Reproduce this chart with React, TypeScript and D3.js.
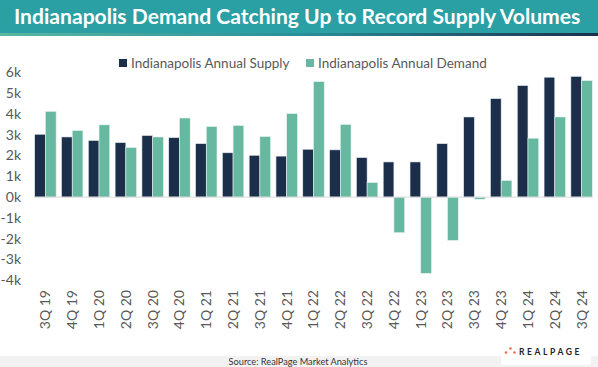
import React from "react";
import * as d3 from "d3";

const categories = ["3Q 19","4Q 19","1Q 20","2Q 20","3Q 20","4Q 20","1Q 21","2Q 21","3Q 21","4Q 21","1Q 22","2Q 22","3Q 22","4Q 22","1Q 23","2Q 23","3Q 23","4Q 23","1Q 24","2Q 24","3Q 24"];
const supply = [3020,2890,2720,2620,2960,2860,2570,2130,2010,1970,2300,2270,1900,1690,1690,2570,3850,4730,5360,5760,5800];
const demand = [4120,3200,3470,2380,2890,3800,3390,3440,2910,4010,5550,3490,700,-1710,-3660,-2080,-100,800,2830,3850,5600];
const yTicks = [6000,5000,4000,3000,2000,1000,0,-1000,-2000,-3000,-4000];
const seriesNames = ["Indianapolis Annual Supply","Indianapolis Annual Demand"];
const colors = ["#1b2f4b","#66b8a0"];

const W = 598, H = 367;

export default function App() {
  const x = d3.scaleBand<string>().domain(categories).range([32, 595]).paddingInner(0.2).paddingOuter(0.1);
  const x1 = d3.scaleBand<string>().domain(["s","d"]).range([0, x.bandwidth()]).padding(0);
  const y = d3.scaleLinear().domain([-4000, 6000]).range([280.4, 72.2]);
  const font = "Lato, 'Open Sans', sans-serif";

  return (
    <div style={{ position: "absolute", left: 0, top: 0 }}>
      <svg width={W} height={H} style={{ display: "block" }}>
        <defs>
          <linearGradient id="strip" x1="0" x2="1" y1="0" y2="0">
            <stop offset="0" stopColor="#5bb7a0" />
            <stop offset="0.5" stopColor="#2a8f9a" />
            <stop offset="1" stopColor="#1b2f4b" />
          </linearGradient>
        </defs>
        <rect x={0} y={0} width={W} height={H} fill="#fff" />
        {/* title bar */}
        <rect x={0} y={0} width={W} height={33} fill="#2a9fa4" />
        <rect x={0} y={33} width={W} height={3} fill="url(#strip)" />
        <text x={14} y={24} fill="#fff" fontFamily={font} fontWeight={700} fontSize={21.1}>
          Indianapolis Demand Catching Up to Record Supply Volumes
        </text>

        {/* legend */}
        <rect x={119} y={59} width={8} height={8} fill={colors[0]} />
        <text x={131} y={68} fill="#595959" fontFamily={font} fontSize={13.5}>{seriesNames[0]}</text>
        <rect x={306} y={59} width={8} height={8} fill={colors[1]} />
        <text x={318} y={68} fill="#595959" fontFamily={font} fontSize={13.5}>{seriesNames[1]}</text>

        {/* y axis labels */}
        {yTicks.map((t) => (
          <text key={t} x={21} y={y(t)} dy="0.35em" textAnchor="end" fill="#595959" fontFamily={font} fontSize={14}>
            {`${t / 1000}k`}
          </text>
        ))}

        {/* bars */}
        {categories.map((c, i) => {
          const x0 = x(c)!;
          return (
            <g key={c}>
              <rect x={x0 + x1("s")!} y={y(Math.max(0, supply[i]))} width={x1.bandwidth()} height={Math.abs(y(supply[i]) - y(0))} fill={colors[0]} stroke="#e8eef0" strokeWidth={0.6} />
              <rect x={x0 + x1("d")!} y={y(Math.max(0, demand[i]))} width={x1.bandwidth()} height={Math.abs(y(demand[i]) - y(0))} fill={colors[1]} stroke="#e8f2ee" strokeWidth={0.6} />
            </g>
          );
        })}
        <line x1={x.range()[0] + 2} x2={x.range()[1] - 2} y1={y(0)} y2={y(0)} stroke="#d9d9d9" strokeWidth={1} />

        {/* x labels */}
        {categories.map((c) => (
          <text key={c} transform={`translate(${x(c)! + x.bandwidth() / 2},290) rotate(-90)`} textAnchor="end" dy="0.35em" fill="#595959" fontFamily={font} fontSize={14}>
            {c}
          </text>
        ))}

        {/* source strip */}
        <rect x={0} y={356} width={W} height={11} fill="#f2f2f2" />
        <text x={298} y={364.5} textAnchor="middle" fill="#333" fontFamily={font} fontSize={9.2}>
          Source: RealPage Market Analytics
        </text>
        <rect x={501} y={343} width={90} height={22} rx={3} fill="#fff" />
        <circle cx={506} cy={352.5} r={1.3} fill="#f26b4b" />
        <circle cx={510.5} cy={348.5} r={1.3} fill="#f26b4b" />
        <circle cx={514.5} cy={352.5} r={1.3} fill="#f26b4b" />
        <text x={519} y={355} fill="#222" fontFamily={font} fontWeight={700} fontSize={8.5} letterSpacing={2.6}>
          REALPAGE
        </text>
      </svg>
    </div>
  );
}
